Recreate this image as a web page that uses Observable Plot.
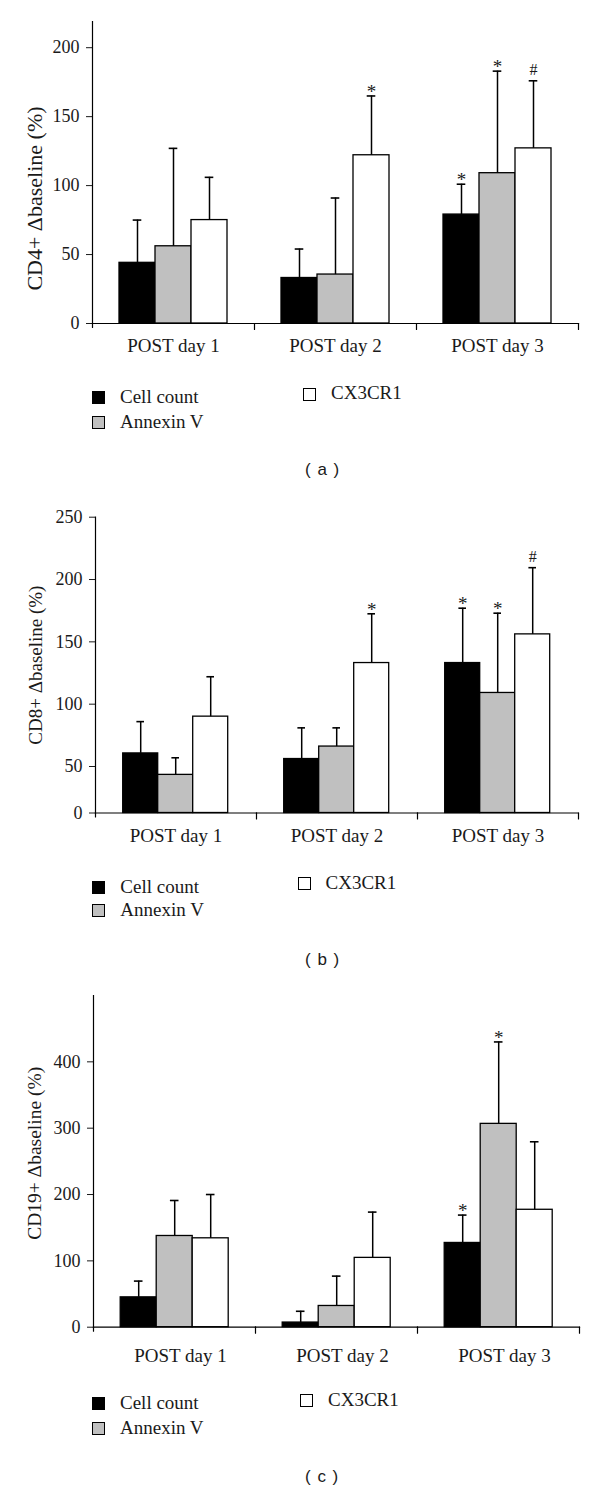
<!DOCTYPE html>
<html>
<head>
<meta charset="utf-8">
<script src="https://cdn.jsdelivr.net/npm/d3@7"></script>
<script src="https://cdn.jsdelivr.net/npm/@observablehq/plot@0.6"></script>
<style>
  html, body { margin: 0; padding: 0; background: #fff; }
  body { position: relative; width: 600px; height: 1492px; overflow: hidden; font-family: "Liberation Serif", "DejaVu Serif", serif; color: #1a1a1a; }
  .panel { position: absolute; left: 0; }
  .leg { position: absolute; font-size: 19px; line-height: 19px; white-space: nowrap; }
  .sw { position: absolute; width: 11px; height: 11px; border: 1px solid #000; }
  .cap { position: absolute; font-family: "Liberation Sans", Arial, sans-serif; font-size: 17px; line-height: 17px; word-spacing: 2px; white-space: nowrap; }
</style>
</head>
<body>
<script>
// ---- data ----
const days = ["POST day 1", "POST day 2", "POST day 3"];
const series = ["Cell count", "Annexin V", "CX3CR1"];
const fills = ["#000000", "#c0c0c0", "#ffffff"];

// rows: days, columns: series
const cd4Mean = [[44, 56, 75], [33, 35.5, 122], [79, 109, 127]];
const cd4Err  = [[75, 127, 106], [54, 91, 165], [101, 183, 176]];
const cd4Sig  = [["", "", ""], ["", "", "*"], ["*", "*", "#"]];
const cd4Ticks = [0, 50, 100, 150, 200];

const cd8Mean = [[60.5, 41, 90], [56, 66, 133], [133, 109, 156]];
const cd8Err  = [[86, 57, 122], [81, 81, 172.5], [177, 173, 209.5]];
const cd8Sig  = [["", "", ""], ["", "", "*"], ["*", "*", "#"]];
const cd8Ticks = [0, 50, 100, 150, 200, 250];

const cd19Mean = [[45, 137.5, 134], [7, 32, 104.5], [127, 306.5, 177]];
const cd19Err  = [[69.5, 191, 200], [24, 77, 173.5], [169, 430, 279.5]];
const cd19Sig  = [["", "", ""], ["", "", ""], ["*", "*", ""]];
const cd19Ticks = [0, 100, 200, 300, 400];

// panel (b) draws its 0–50 segment compressed (as in the original figure)
const cd8Squeeze = v => (v >= 50 ? v : 50 - (50 - v) * 0.746);
const cd8Unsqueeze = v => (v >= 50 ? v : 50 - (50 - v) / 0.746);

const tickShape = { draw(ctx, l) { ctx.moveTo(0, 0); ctx.lineTo(0, -l); } };

function makeRows(mean, err, sig) {
  const rows = [];
  days.forEach((d, i) => series.forEach((s, j) => rows.push({ day: d, series: s, value: mean[i][j], err: err[i][j], sig: sig[i][j] })));
  return rows;
}

function panel(cfg) {
  const rows = makeRows(cfg.mean, cfg.err, cfg.sig);
  const plot = Plot.plot({
    width: 600,
    height: cfg.height,
    marginTop: cfg.marginTop,
    marginBottom: cfg.marginBottom,
    marginLeft: cfg.marginLeft,
    marginRight: 20.7,
    style: { fontFamily: "Liberation Serif, serif", fontSize: "18px", color: "#1a1a1a", background: "#ffffff" },
    fx: { domain: days, padding: 0, label: null },
    x: { domain: series, paddingInner: 0, paddingOuter: cfg.xOuter, axis: null },
    y: Object.assign({ label: null }, cfg.y),
    color: { domain: series, range: fills },
    marks: [
      Plot.barY(rows, { fx: "day", x: "series", y: "value", fill: "series", stroke: "#000", strokeWidth: 1.3 }),
      Plot.ruleX(rows, { fx: "day", x: "series", y1: "value", y2: "err", stroke: "#000", strokeWidth: 1.5 }),
      Plot.tickY(rows, { fx: "day", x: "series", y: "err", stroke: "#000", strokeWidth: 1.6, inset: 13.7 }),
      Plot.text(rows.filter(r => r.sig === "*"), { fx: "day", x: "series", y: "err", text: "sig", fontSize: 19, dy: -4 }),
      Plot.text(rows.filter(r => r.sig === "#"), { fx: "day", x: "series", y: "err", text: "sig", fontSize: 16, dy: -11 }),
      Plot.axisY({ ticks: cfg.ticks, tickSize: 6, tickPadding: 7, fontSize: 18, label: null, tickFormat: cfg.tickFormat }),
      Plot.axisFx({ anchor: "bottom", tickSize: 0, tickPadding: cfg.labelPad, dx: cfg.labelDx, fontSize: 19, label: null }),
      Plot.frame({ anchor: "left", facetAnchor: "left", stroke: "#000", strokeWidth: 1.2 }),
      Plot.frame({ anchor: "bottom", stroke: "#000", strokeWidth: 1.2 }),
      Plot.vector([0], { frameAnchor: "bottom-right", length: 6, rotate: 180, anchor: "start", shape: tickShape, stroke: "#000", strokeWidth: 1.2 }),
      Plot.vector([0], { frameAnchor: "bottom-left", facetAnchor: "left", length: 4, rotate: 180, anchor: "start", shape: tickShape, stroke: "#000", strokeWidth: 1.2 }),
      Plot.text([cfg.title], { frameAnchor: "left", facetAnchor: "left", textAnchor: "middle", rotate: -90, dx: cfg.titleDx, dy: cfg.titleDy, fontSize: cfg.titleSize, text: d => d })
    ]
  });
  const wrap = document.createElement("div");
  wrap.className = "panel";
  wrap.style.top = cfg.top + "px";
  wrap.appendChild(plot);
  document.body.appendChild(wrap);

  // legend
  const L = cfg.legend;
  const items = [
    { s: 0, left: L.x1, cap: L.r1 },
    { s: 1, left: L.x1, cap: L.r2 },
    { s: 2, left: L.x2, cap: L.r3 }
  ];
  items.forEach(it => {
    const sw = document.createElement("div");
    sw.className = "sw";
    sw.style.left = it.left + "px";
    sw.style.top = (it.cap + 1) + "px";
    sw.style.background = fills[it.s];
    document.body.appendChild(sw);
    const t = document.createElement("div");
    t.className = "leg";
    t.style.left = (it.left + 28) + "px";
    t.style.top = (it.cap - 3.3) + "px";
    t.textContent = series[it.s];
    document.body.appendChild(t);
  });
  const c = document.createElement("div");
  c.className = "cap";
  c.style.left = "305px";
  c.style.top = cfg.captionTop + "px";
  c.textContent = cfg.caption;
  document.body.appendChild(c);
}

panel({
  top: 0, height: 370, marginTop: 21, marginBottom: 47, marginLeft: 91, xOuter: 0.75,
  y: { domain: [0, 219] }, ticks: cd4Ticks, tickFormat: d => String(d),
  mean: cd4Mean, err: cd4Err, sig: cd4Sig, labelPad: 15, labelDx: 0,
  title: "CD4+ Δbaseline (%)", titleDx: -58, titleDy: 26, titleSize: 22,
  legend: { x1: 92, x2: 303, r1: 390, r2: 415, r3: 386.5 },
  caption: "( a )", captionTop: 461
});

panel({
  top: 490, height: 370, marginTop: 26.7, marginBottom: 47.5, marginLeft: 93.3, xOuter: 0.79,
  y: { domain: [cd8Squeeze(0), 250], transform: cd8Squeeze },
  ticks: cd8Ticks.map(cd8Squeeze), tickFormat: d => String(Math.round(cd8Unsqueeze(d))),
  mean: cd8Mean, err: cd8Err, sig: cd8Sig, labelPad: 15.5, labelDx: 0,
  title: "CD8+ Δbaseline (%)", titleDx: -60, titleDy: 0, titleSize: 19,
  legend: { x1: 92.3, x2: 297.5, r1: 880, r2: 903, r3: 876 },
  caption: "( b )", captionTop: 951
});

panel({
  top: 975, height: 400, marginTop: 20, marginBottom: 48.3, marginLeft: 91.8, xOuter: 0.75,
  y: { domain: [0, 500] }, ticks: cd19Ticks, tickFormat: d => String(d),
  mean: cd19Mean, err: cd19Err, sig: cd19Sig, labelPad: 21, labelDx: 6,
  title: "CD19+ Δbaseline (%)", titleDx: -59, titleDy: -8, titleSize: 19.5,
  legend: { x1: 92, x2: 300, r1: 1396, r2: 1421, r3: 1393 },
  caption: "( c )", captionTop: 1468
});
</script>
</body>
</html>
